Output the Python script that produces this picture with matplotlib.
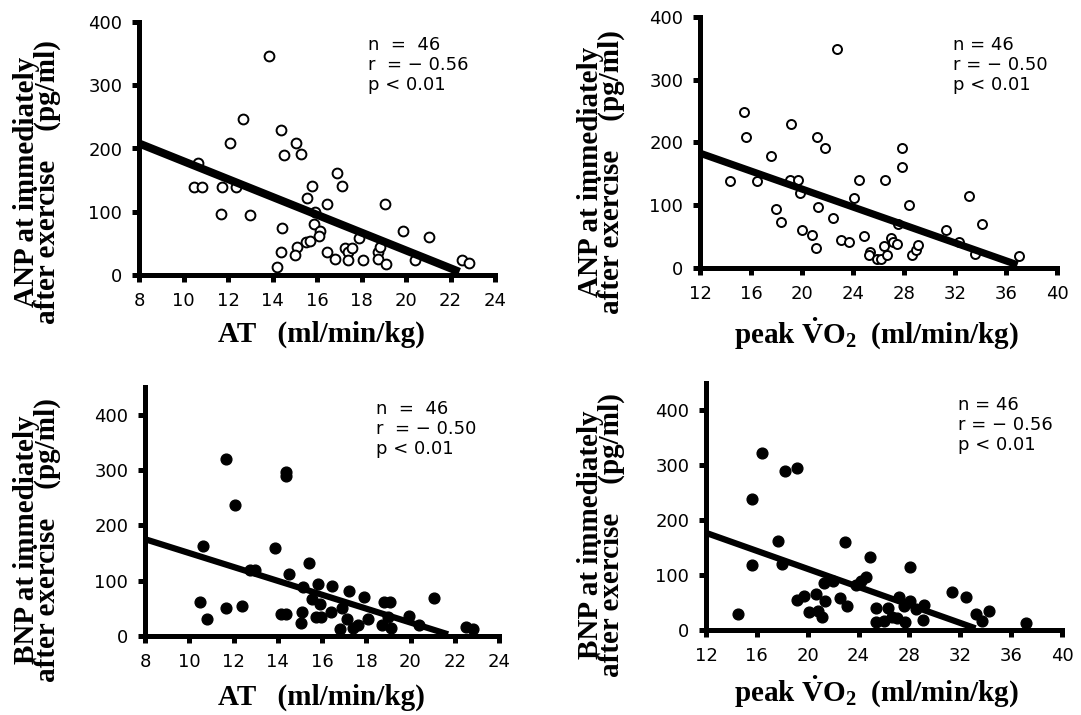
import matplotlib.pyplot as plt
import numpy as np

plt.rcParams['font.family'] = ['DejaVu Sans']
plt.rcParams['mathtext.fontset'] = 'custom'
plt.rcParams['mathtext.rm'] = 'Liberation Serif:bold'
plt.rcParams['mathtext.bf'] = 'Liberation Serif:bold'
plt.rcParams['mathtext.it'] = 'Liberation Serif:bold'

# ANP vs AT (open circles)
anp_at_x = [13.85, 12.68, 14.39, 12.08, 15.06, 14.52, 15.30, 10.65, 10.47, 10.83,
            11.73, 12.36, 11.67, 12.99, 16.91, 17.13, 15.78, 15.53, 16.47, 15.90,
            15.87, 16.13, 16.08, 14.43, 14.37, 14.19, 15.08, 15.03, 15.50, 15.69,
            16.43, 16.82, 17.25, 17.40, 17.58, 17.40, 17.91, 18.06, 18.72, 18.84,
            18.75, 19.05, 19.10, 19.87, 20.40, 21.04, 22.50, 22.81]
anp_at_y = [347, 247, 230, 208, 209, 190, 191, 177, 139, 139,
            139, 139, 97, 95, 161, 141, 140, 121, 113, 100,
            81, 69, 62, 75, 37, 13, 44, 32, 52, 54,
            36, 26, 42, 37, 42, 23, 58, 23, 37, 44,
            26, 113, 17, 69, 23, 60, 24, 19]
anp_at_fit_x = [8, 22.4]
anp_at_fit_y = [208, 5]

# ANP vs peak VO2 (open circles)
anp_vo2_x = [22.76, 15.47, 15.60, 19.13, 21.19, 21.84, 17.56, 14.35, 16.44, 19.05,
             19.70, 19.83, 21.27, 17.93, 18.32, 20.02, 20.75, 21.09, 22.44, 23.02,
             23.70, 24.06, 24.45, 24.87, 25.32, 25.24, 25.89, 26.23, 26.49, 26.41,
             26.70, 27.01, 27.14, 27.46, 27.87, 27.87, 28.40, 27.54, 28.66, 28.97,
             29.13, 31.27, 32.31, 33.07, 33.59, 34.12, 37.01]
anp_vo2_y = [349, 248, 208, 230, 209, 191, 178, 138, 138, 140,
             140, 120, 98, 94, 74, 60, 53, 32, 79, 44,
             42, 112, 140, 51, 26, 21, 15, 14, 140, 35,
             21, 48, 41, 38, 192, 161, 101, 70, 21, 29,
             37, 60, 42, 114, 22, 70, 19]
anp_vo2_fit_x = [12, 36.9]
anp_vo2_fit_y = [183, 5]

# BNP vs AT (filled circles)
bnp_at_x = [11.65, 14.38, 14.38, 12.05, 10.64, 13.86, 15.43, 14.53, 12.73, 12.95,
            10.48, 10.78, 11.65, 12.38, 14.16, 14.38, 15.09, 15.03, 15.13, 15.81,
            15.54, 15.91, 15.73, 15.96, 16.41, 16.45, 16.90, 17.13, 17.23, 16.81,
            17.38, 17.61, 17.88, 18.06, 18.81, 19.07, 18.71, 19.13, 19.00, 19.91,
            20.39, 21.06, 22.49, 22.82]
bnp_at_y = [320, 296, 289, 237, 162, 159, 132, 112, 120, 120,
            61, 30, 51, 54, 40, 40, 44, 24, 88, 94,
            67, 58, 34, 34, 43, 90, 50, 30, 82, 13,
            14, 19, 70, 31, 61, 61, 20, 14, 34, 36,
            19, 68, 17, 13]
bnp_at_fit_x = [8, 21.7]
bnp_at_fit_y = [175, 3]

# BNP vs peak VO2 (filled circles)
bnp_vo2_x = [16.40, 18.23, 19.15, 15.61, 17.63, 22.94, 15.59, 17.97, 24.91, 28.05,
             14.49, 19.15, 19.72, 20.64, 21.35, 20.12, 20.77, 21.16, 21.29, 22.00,
             22.52, 23.07, 23.78, 24.17, 24.62, 25.40, 25.35, 26.00, 26.32, 26.66,
             27.18, 27.05, 27.63, 27.58, 28.05, 28.50, 29.15, 29.04, 31.37, 32.42,
             33.26, 33.73, 34.25, 37.13]
bnp_vo2_y = [323, 290, 296, 239, 163, 160, 119, 120, 133, 114,
             29, 54, 62, 66, 52, 33, 35, 23, 86, 89,
             58, 44, 82, 90, 96, 40, 15, 17, 40, 24,
             60, 21, 15, 44, 52, 38, 46, 18, 70, 61,
             30, 16, 35, 12]
bnp_vo2_fit_x = [12, 33.2]
bnp_vo2_fit_y = [177, 3]

at_ticks = [8, 10, 12, 14, 16, 18, 20, 22, 24]
vo2_ticks = [12, 16, 20, 24, 28, 32, 36, 40]

W, H = 1081, 715
fig = plt.figure(figsize=(W / 100, H / 100), dpi=100)


def px_axes(left, right, top, bottom):
    return fig.add_axes([left / W, 1 - bottom / H, (right - left) / W, (bottom - top) / H])


def style(ax, xlim, ylim, xticks):
    ax.set_xlim(*xlim)
    ax.set_ylim(*ylim)
    ax.set_xticks(xticks)
    ax.set_yticks([0, 100, 200, 300, 400])
    for s in ['top', 'right']:
        ax.spines[s].set_visible(False)
    for s in ['left', 'bottom']:
        ax.spines[s].set_linewidth(3.6)
    ax.tick_params(direction='out', length=5, width=3.6, labelsize=13, pad=7)


def txt(x, y, s, **kw):
    fig.text(x / W, 1 - y / H, s, **kw)


# panel 1
ax1 = px_axes(139, 495, 22, 275)
style(ax1, (8, 24), (0, 400), at_ticks)
ax1.scatter(anp_at_x, anp_at_y, s=50, facecolor='white', edgecolor='black', linewidth=1.4, zorder=3, clip_on=False)
ax1.plot(anp_at_fit_x, anp_at_fit_y, color='black', linewidth=5.8, zorder=4, solid_capstyle='butt')

# panel 2
ax2 = px_axes(700, 1057, 17, 268)
style(ax2, (12, 40), (0, 400), vo2_ticks)
ax2.scatter(anp_vo2_x, anp_vo2_y, s=42, facecolor='white', edgecolor='black', linewidth=1.4, zorder=3, clip_on=False)
ax2.plot(anp_vo2_fit_x, anp_vo2_fit_y, color='black', linewidth=5.2, zorder=4, solid_capstyle='butt')

# panel 3
ax3 = px_axes(145, 499, 387, 636)
style(ax3, (8, 24), (0, 450), at_ticks)
ax3.scatter(bnp_at_x, bnp_at_y, s=60, color='black', zorder=3, clip_on=False)
ax3.plot(bnp_at_fit_x, bnp_at_fit_y, color='black', linewidth=4.5, zorder=4, solid_capstyle='butt')

# panel 4
ax4 = px_axes(706, 1062, 383, 630)
style(ax4, (12, 40), (0, 450), vo2_ticks)
ax4.scatter(bnp_vo2_x, bnp_vo2_y, s=60, color='black', zorder=3, clip_on=False)
ax4.plot(bnp_vo2_fit_x, bnp_vo2_fit_y, color='black', linewidth=4.5, zorder=4, solid_capstyle='butt')

# stats
stat_kw = dict(fontsize=13, va='top', ha='left', linespacing=1.15)
txt(368, 36, 'n  =  46\nr  = − 0.56\np < 0.01', **stat_kw)
txt(953, 36, 'n = 46\nr = − 0.50\np < 0.01', **stat_kw)
txt(376, 400, 'n  =  46\nr  = − 0.50\np < 0.01', **stat_kw)
txt(958, 396, 'n = 46\nr = − 0.56\np < 0.01', **stat_kw)

# axis labels
lab_kw = dict(family='Liberation Serif', fontweight='bold', fontsize=21, ha='center', va='center')
txt(321, 334, 'AT   (ml/min/kg)', **lab_kw)
txt(321, 697, 'AT   (ml/min/kg)', **lab_kw)
vo2_lab = r'peak $\dot{\mathrm{V}}\mathrm{O}_2$  (ml/min/kg)'
txt(876, 334, vo2_lab, **lab_kw)
txt(876, 692, vo2_lab, **lab_kw)

ylab_kw = dict(family='Liberation Serif', fontweight='bold', fontsize=21, ha='center', va='center',
               rotation=90, linespacing=0.72, multialignment='center')
for x0, yc, name in [(37, 182, 'ANP'), (601, 172, 'ANP'), (37, 540, 'BNP'), (601, 535, 'BNP')]:
    txt(x0, yc, name + ' at immediately\nafter exercise    (pg/ml)', **ylab_kw)

fig.savefig('out.png', dpi=100)
